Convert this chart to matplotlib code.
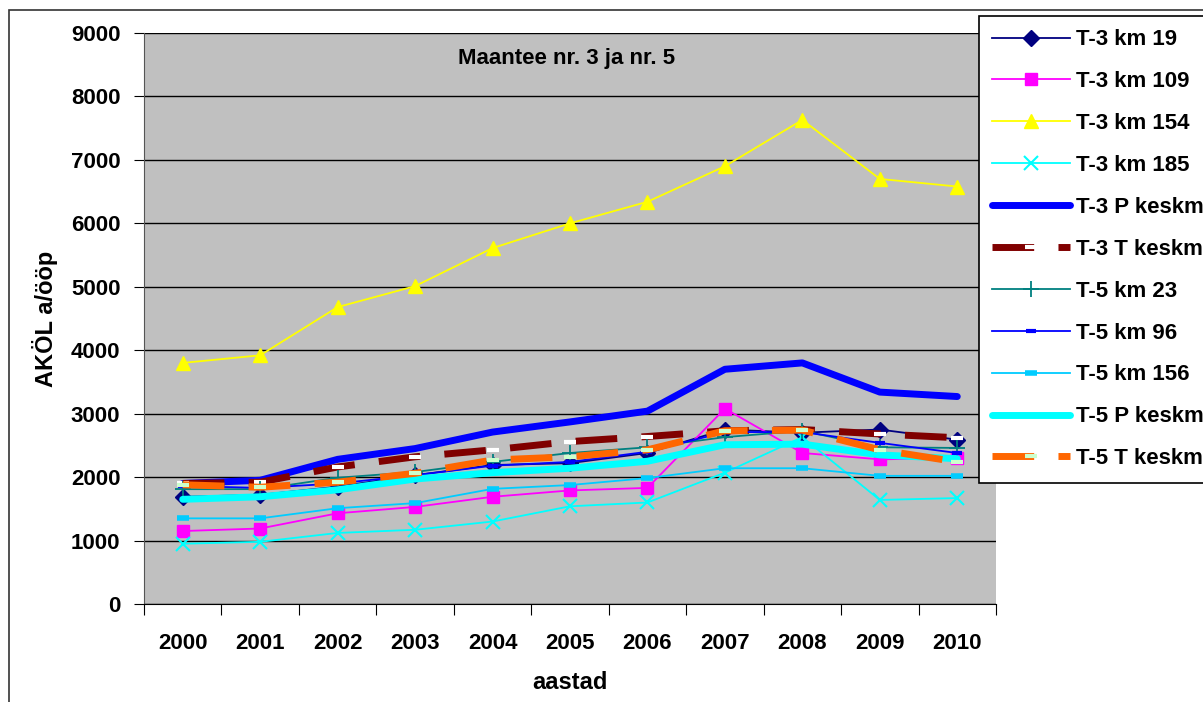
#!/usr/bin/env python3
import matplotlib
matplotlib.use('Agg')
import matplotlib.pyplot as plt
from matplotlib.patches import Rectangle

plt.rcParams['font.family'] = ['Liberation Sans', 'DejaVu Sans']

years = ['2000', '2001', '2002', '2003', '2004', '2005',
         '2006', '2007', '2008', '2009', '2010']

# loendusandmed, AKÖL a/ööp
t3_km19 = [1690, 1720, 1850, 2030, 2190, 2220, 2380, 2750, 2700, 2750, 2590]
t3_km109 = [1150, 1190, 1430, 1530, 1690, 1790, 1830, 3080, 2380, 2280, 2300]
t3_km154 = [3800, 3920, 4680, 5010, 5610, 6000, 6340, 6900, 7630, 6700, 6580]
t3_km185 = [950, 980, 1120, 1170, 1300, 1540, 1600, 2070, 2630, 1640, 1670]
t3_p_keskm = [1900, 1950, 2280, 2450, 2710, 2870, 3040, 3700, 3800, 3340, 3270]
t3_t_keskm = [1900, 1920, 2160, 2320, 2430, 2560, 2640, 2730, 2750, 2680, 2620]
t5_km23 = [1810, 1810, 1990, 2080, 2240, 2380, 2470, 2630, 2730, 2470, 2460]
t5_km96 = [1860, 1830, 1900, 2030, 2180, 2240, 2400, 2710, 2710, 2540, 2380]
t5_km156 = [1350, 1350, 1510, 1590, 1815, 1875, 1985, 2140, 2140, 2020, 2020]
t5_p_keskm = [1650, 1690, 1800, 1970, 2070, 2140, 2250, 2510, 2520, 2350, 2290]
t5_t_keskm = [1880, 1840, 1920, 2060, 2270, 2320, 2430, 2730, 2740, 2430, 2240]

fig = plt.figure(figsize=(12.03, 7.02), dpi=100)
fig.patches.append(Rectangle((9 / 1203, -0.01), 1.1, 1 - 10 / 702 + 0.01,
                             transform=fig.transFigure, fill=False,
                             edgecolor='#333333', lw=1.2))

ax = fig.add_axes([144 / 1203, 1 - 604 / 702, 852 / 1203, 571 / 702])
ax.set_facecolor('#C0C0C0')

x = list(range(len(years)))
ax.plot(x, t3_km19, color='#000080', lw=1.3, marker='D', ms=8,
        label='T-3 km 19')
ax.plot(x, t3_km109, color='#FF00FF', lw=1.3, marker='s', ms=9,
        label='T-3 km 109')
ax.plot(x, t3_km154, color='#FFFF00', lw=1.3, marker='^', ms=10,
        label='T-3 km 154')
ax.plot(x, t3_km185, color='#00FFFF', lw=1.3, marker='x', ms=10, mew=1.5,
        label='T-3 km 185')
ax.plot(x, t3_p_keskm, color='#0000FF', lw=5, solid_capstyle='round',
        label='T-3 P keskm')
ax.plot(x, t3_t_keskm, color='#800000', lw=5, dashes=(6, 3.5),
        marker='_', ms=9, mew=3, mec='white', label='T-3 T keskm')
ax.plot(x, t5_km23, color='#008080', lw=1.3, marker='+', ms=11, mew=1.3,
        label='T-5 km 23')
ax.plot(x, t5_km96, color='#0000FF', lw=1.3, marker='_', ms=7, mew=3,
        label='T-5 km 96')
ax.plot(x, t5_km156, color='#00CCFF', lw=1.3, marker='_', ms=9, mew=4,
        label='T-5 km 156')
ax.plot(x, t5_p_keskm, color='#00FFFF', lw=5, solid_capstyle='round',
        label='T-5 P keskm')
ax.plot(x, t5_t_keskm, color='#FF6600', lw=5, dashes=(6, 3.5),
        marker='_', ms=9, mew=3, mec='#CCFFCC', label='T-5 T keskm')

ax.set_xlim(-0.5, len(years) - 0.5)
ax.set_ylim(0, 9000)
ax.set_yticks(range(0, 9001, 1000))
ax.set_xticks([i - 0.5 for i in range(len(years) + 1)])
ax.set_xticklabels([])
ax.set_xticks(x, minor=True)
ax.set_xticklabels(years, minor=True)
ax.tick_params(axis='x', which='minor', length=0, pad=21, labelsize=16)
ax.tick_params(axis='x', which='major', length=8, direction='out')
ax.tick_params(axis='y', length=7, direction='out', pad=10, labelsize=16)
for lab in ax.get_xticklabels(minor=True) + ax.get_yticklabels():
    lab.set_fontweight('bold')

ax.grid(axis='y', color='black', lw=1)
ax.set_axisbelow(True)
for side in ['top', 'right']:
    ax.spines[side].set_visible(False)
ax.spines['left'].set_color('#555555')
ax.spines['bottom'].set_color('black')

ax.text(0.496, 0.955, 'Maantee nr. 3 ja nr. 5', transform=ax.transAxes,
        ha='center', va='center', fontsize=16, fontweight='bold')
ax.set_ylabel('AKÖL a/ööp', fontsize=17, fontweight='bold', labelpad=9)
ax.set_xlabel('aastad', fontsize=17, fontweight='bold', labelpad=12)

leg = fig.legend(loc='upper left', bbox_to_anchor=(979 / 1203, 1 - 16 / 702),
                 borderaxespad=0, prop={'weight': 'bold', 'size': 16},
                 handlelength=3.5, labelspacing=0.94, borderpad=0.6,
                 handletextpad=0.25, fancybox=False, framealpha=1,
                 edgecolor='black')
leg.get_frame().set_linewidth(1.2)

fig.savefig('out.png', dpi=100)
